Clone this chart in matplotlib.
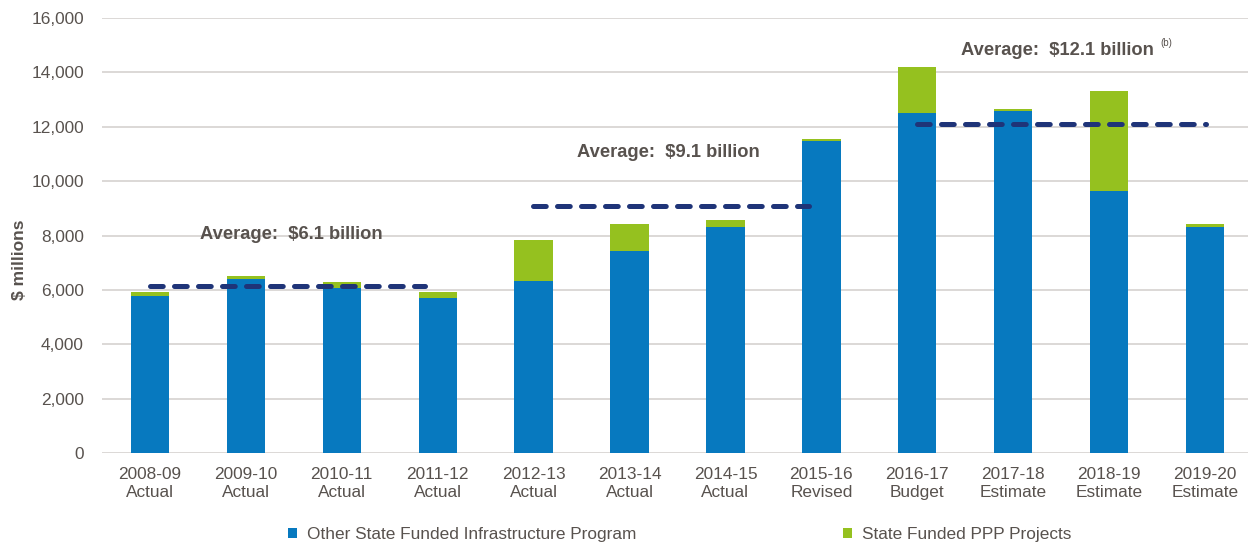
import matplotlib.pyplot as plt
import numpy as np

years = ['2008-09', '2009-10', '2010-11', '2011-12', '2012-13', '2013-14',
         '2014-15', '2015-16', '2016-17', '2017-18', '2018-19', '2019-20']
kinds = ['Actual', 'Actual', 'Actual', 'Actual', 'Actual', 'Actual',
         'Actual', 'Revised', 'Budget', 'Estimate', 'Estimate', 'Estimate']

other_state = [5770, 6410, 6060, 5690, 6340, 7440, 8330, 11490, 12520, 12580, 9650, 8330]
ppp_projects = [150, 100, 230, 230, 1480, 970, 240, 70, 1680, 70, 3660, 90]

avg_values = [6150, 9090, 12110]
avg_spans = [(0.0, 2.87), (3.99, 6.87), (8.0, 11.01)]
avg_labels = ['Average:  $6.1 billion', 'Average:  $9.1 billion', 'Average:  $12.1 billion']
avg_label_pos = [(1.475, 8054), (5.40, 11070), (9.46, 14820)]

blue = '#0779bf'
green = '#95c11f'
navy = '#1f3478'
text_grey = '#58524e'
grid_grey = '#d9d6d3'

font_size = 12.4
plt.rc('font', **{'family': ['Liberation Sans', 'DejaVu Sans'], 'size': font_size})

fig = plt.figure(figsize=(12.48, 5.46), dpi=100)
ax = fig.add_axes([102 / 1248, 93 / 546, 1151 / 1248, 435 / 546])

x = np.arange(len(years))
width = 0.4

ax.bar(x, other_state, width, color=blue, label='Other State Funded Infrastructure Program', zorder=3)
ax.bar(x, ppp_projects, width, bottom=other_state, color=green, label='State Funded PPP Projects', zorder=3)

# dashed average lines
for val, (x0, x1) in zip(avg_values, avg_spans):
    ax.plot([x0, x1], [val, val], color=navy, linewidth=3.6, dashes=(2.55, 2.25),
            dash_capstyle='round', solid_capstyle='round', zorder=4)

for label, (lx, ly) in zip(avg_labels, avg_label_pos):
    ax.text(lx, ly, label, ha='center', va='center', fontsize=13.2,
            fontweight='bold', color=text_grey, zorder=5)
ax.text(10.53, 15080, '(b)', ha='left', va='center', fontsize=7, color=text_grey)

ax.set_xlim(-0.5, len(years) - 0.5)
ax.set_ylim(0, 16000)
ax.set_yticks(np.arange(0, 16001, 2000))
ax.set_yticklabels(['{:,}'.format(v) for v in range(0, 16001, 2000)])
ax.set_xticks(x)
ax.set_xticklabels(['%s\n%s' % (y, k) for y, k in zip(years, kinds)], linespacing=1.25)

ax.yaxis.grid(True, color=grid_grey, linewidth=1.3, zorder=0)
ax.set_axisbelow(True)
for s in ['top', 'right', 'left', 'bottom']:
    ax.spines[s].set_visible(False)
ax.tick_params(axis='both', length=0, colors=text_grey, labelsize=font_size)
ax.tick_params(axis='x', pad=10)
ax.tick_params(axis='y', pad=13)

ax.set_ylabel('$ millions', fontweight='bold', color=text_grey, fontsize=12.5)
ax.yaxis.set_label_coords(-0.065, 0.444)

leg = fig.legend(loc='center left', bbox_to_anchor=(288 / 1248, 1 - 535 / 546), ncol=2, frameon=False,
                 handlelength=0.52, handleheight=0.52, handletextpad=0.58,
                 borderpad=0, borderaxespad=0,
                 columnspacing=12.0, fontsize=font_size)
for t in leg.get_texts():
    t.set_color(text_grey)

plt.savefig('out.png', dpi=100)
